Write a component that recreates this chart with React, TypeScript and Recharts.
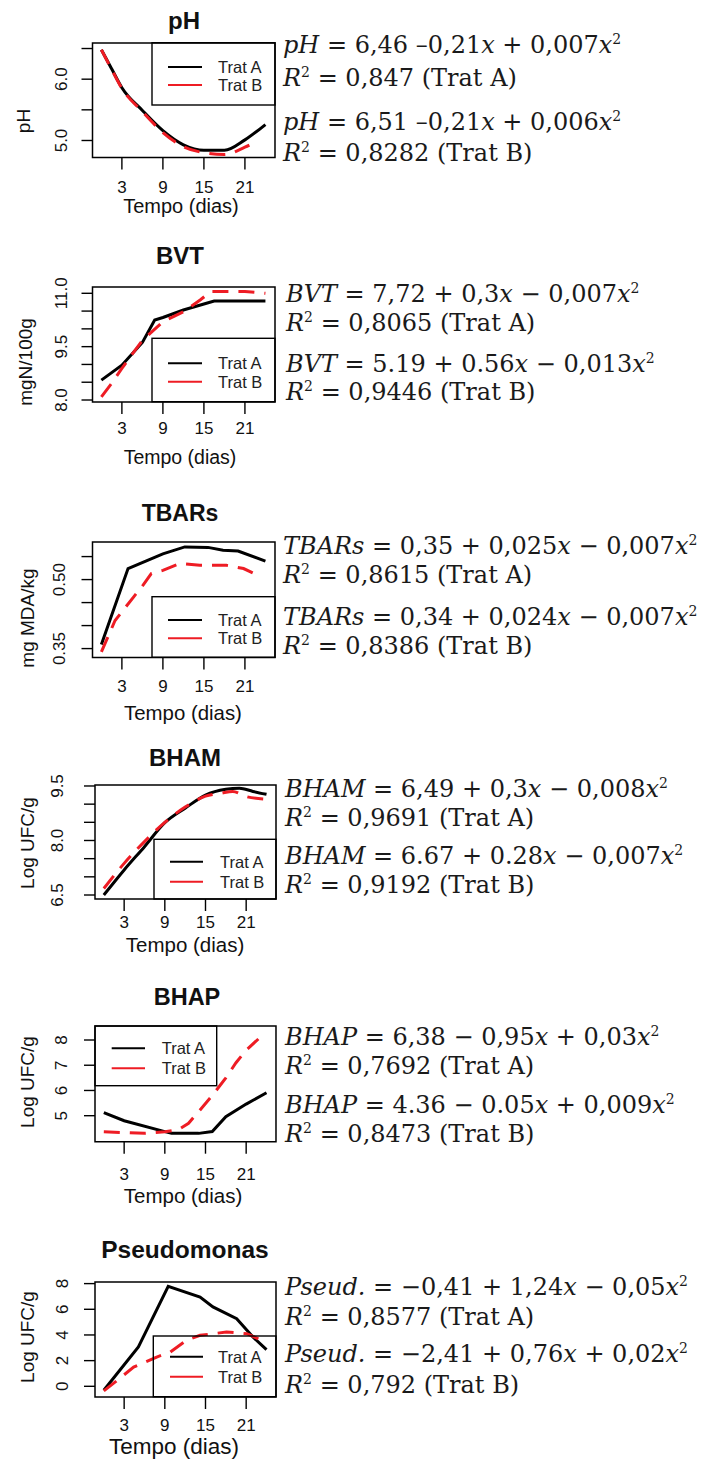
import React from 'react';
import { LineChart, Line, XAxis, YAxis, ReferenceArea } from 'recharts';

const SANS = '"Liberation Sans", Arial, Helvetica, sans-serif';
const SERIF = '"DejaVu Serif", serif';
const RED = '#ee1c24';

const dayTicks = [3, 9, 15, 21];
const xDomain: [number, number] = [-1.3, 25.4];

// ---- data: [day, value] ----
const phA = [[0, 6.48], [1.5, 6.17], [3, 5.86], [6, 5.49], [9, 5.16], [12, 4.93], [15, 4.84], [18, 4.84], [21, 5.01], [24, 5.26]];
const phB = [[0, 6.48], [1.5, 6.16], [3, 5.85], [6, 5.47], [9, 5.13], [12, 4.9], [15, 4.8], [18, 4.77], [21, 4.89], [22.3, 4.96]];
const phTicks = [5.0, 5.5, 6.0, 6.5];
const phTickLabels = ['5.0', '', '6.0', ''];

const bvtA = [[0, 8.56], [3, 8.98], [6, 9.62], [7.8, 10.25], [9, 10.32], [12, 10.53], [15, 10.7], [16.5, 10.78], [24, 10.78]];
const bvtB = [[0, 8.09], [1.5, 8.47], [3, 8.89], [6, 9.68], [9, 10.2], [12, 10.48], [14.5, 10.82], [16, 11.05], [21, 11.05], [24, 11.0]];
const bvtTicks = [8, 8.5, 9, 9.5, 10, 10.5, 11];
const bvtTickLabels = ['8.0', '', '', '9.5', '', '', '11.0'];

const tbaA = [[0, 0.359], [3.9, 0.524], [9, 0.556], [12.2, 0.571], [15.6, 0.57], [17.8, 0.564], [20, 0.562], [24, 0.54]];
const tbaB = [[0, 0.343], [2, 0.411], [4.7, 0.462], [6.1, 0.488], [7.3, 0.513], [9, 0.52], [11.5, 0.535], [14.4, 0.531], [18.3, 0.531], [20.8, 0.524], [22.5, 0.512]];
const tbaTicks = [0.35, 0.4, 0.45, 0.5, 0.55];
const tbaTickLabels = ['0.35', '', '', '0.50', ''];

const bhamA = [[0, 6.5], [3, 7.19], [6, 7.83], [9, 8.49], [12, 8.89], [15, 9.25], [18, 9.41], [20, 9.44], [22, 9.35], [24, 9.27]];
const bhamB = [[0, 6.68], [3, 7.37], [6, 7.97], [9, 8.5], [12, 8.92], [15, 9.22], [17.3, 9.3], [19, 9.35], [21, 9.21], [23.6, 9.14]];
const bhamTicks = [6.5, 7, 7.5, 8, 8.5, 9, 9.5];
const bhamTickLabels = ['6.5', '', '', '8.0', '', '', '9.5'];

const bhapA = [[0, 5.12], [3, 4.8], [9, 4.37], [10, 4.3], [14, 4.3], [16, 4.37], [18, 4.96], [21, 5.46], [24, 5.91]];
const bhapB = [[0, 4.36], [6, 4.3], [9, 4.36], [11, 4.45], [12.5, 4.7], [14.2, 5.23], [16, 5.8], [18, 6.5], [19.5, 7.1], [21, 7.6], [22.8, 8.04]];
const bhapTicks = [5, 6, 7, 8];
const bhapTickLabels = ['5', '6', '7', '8'];

const psA = [[0, -0.31], [5.1, 3.06], [9.5, 7.79], [14.2, 6.95], [16.1, 6.18], [19.6, 5.27], [22, 3.84], [24, 2.85]];
const psB = [[0, -0.36], [1.7, 0.34], [4.4, 1.5], [7.8, 2.28], [9.8, 2.67], [12.2, 3.58], [14.2, 3.97], [18.1, 4.23], [21.1, 4.1], [22.8, 3.7]];
const psTicks = [0, 2, 4, 6, 8];
const psTickLabels = ['0', '2', '4', '6', '8'];

const legendNames = ['Trat A', 'Trat B'];

const phEqs = ['{pH} = 6,46 –0,21{x} + 0,007{x}^2', '{R}^2 = 0,847 (Trat A)', '{pH} = 6,51 –0,21{x} + 0,006{x}^2', '{R}^2 = 0,8282 (Trat B)'];
const bvtEqs = ['{BVT} = 7,72 + 0,3{x} − 0,007{x}^2', '{R}^2 = 0,8065 (Trat A)', '{BVT} = 5.19 + 0.56{x} − 0,013{x}^2', '{R}^2 = 0,9446 (Trat B)'];
const tbaEqs = ['{TBARs} = 0,35 + 0,025{x} − 0,007{x}^2', '{R}^2 = 0,8615 (Trat A)', '{TBARs} = 0,34 + 0,024{x} − 0,007{x}^2', '{R}^2 = 0,8386 (Trat B)'];
const bhamEqs = ['{BHAM} = 6,49 + 0,3{x} − 0,008{x}^2', '{R}^2 = 0,9691 (Trat A)', '{BHAM} = 6.67 + 0.28{x} − 0,007{x}^2', '{R}^2 = 0,9192 (Trat B)'];
const bhapEqs = ['{BHAP} = 6,38 − 0,95{x} + 0,03{x}^2', '{R}^2 = 0,7692 (Trat A)', '{BHAP} = 4.36 − 0.05{x} + 0,009{x}^2', '{R}^2 = 0,8473 (Trat B)'];
const psEqs = ['{Pseud.} = −0,41 + 1,24{x} − 0,05{x}^2', '{R}^2 = 0,8577 (Trat A)', '{Pseud.} = −2,41 + 0,76{x} + 0,02{x}^2', '{R}^2 = 0,792 (Trat B)'];

const toPts = (arr: number[][]) => arr.map(([d, v]) => ({ d, v }));

// ---- layout ----
const panels = [
  {
    a: phA, b: phB, curve: 'monotone', box: [92.5, 275, 42.7, 157.3], yDomain: [4.721, 6.59], yTicks: phTicks, yLabels: phTickLabels, ylx: 66.7, tm: 11,
    title: { text: 'pH', x: 184, y: 29, fs: 24 }, xlab: { x: 181, y: 213, fs: 20 }, ylab: { text: 'pH', x: 30, y: 121 },
    legend: { x: 152, y: 42.7, w: 123, h: 62.3, lx1: 168, lx2: 202, tx: 218, ya: 67, yb: 85 },
    eqX: 283, eqY: [53, 86, 130, 161], eqs: phEqs,
  },
  {
    a: bvtA, b: bvtB, curve: 'linear', box: [92.5, 275, 286.7, 401.7], yDomain: [7.944, 11.177], yTicks: bvtTicks, yLabels: bvtTickLabels, ylx: 66.7, tm: 8,
    title: { text: 'BVT', x: 180, y: 264, fs: 24 }, xlab: { x: 180, y: 464, fs: 19.5 }, ylab: { text: 'mgN/100g', x: 32, y: 362 },
    legend: { x: 152, y: 338.3, w: 123, h: 63.4, lx1: 168, lx2: 202, tx: 218, ya: 363.3, yb: 381.7 },
    eqX: 286, eqY: [302, 331, 372, 400], eqs: bvtEqs,
  },
  {
    a: tbaA, b: tbaB, curve: 'linear', box: [92.5, 275, 541.7, 657.3], yDomain: [0.3304, 0.5817], yTicks: tbaTicks, yLabels: tbaTickLabels, ylx: 65, tm: 10,
    title: { text: 'TBARs', x: 180, y: 521, fs: 23 }, xlab: { x: 183, y: 720, fs: 20.4 }, ylab: { text: 'mg MDA/kg', x: 33.5, y: 618 },
    legend: { x: 152, y: 596.7, w: 123, h: 60.6, lx1: 168, lx2: 202, tx: 218, ya: 620, yb: 638.3 },
    eqX: 283, eqY: [554, 583, 625, 654], eqs: tbaEqs,
  },
  {
    a: bhamA, b: bhamB, curve: 'monotone', box: [95, 276, 785, 899], yDomain: [6.39, 9.527], yTicks: bhamTicks, yLabels: bhamTickLabels, ylx: 63.3, tm: 5,
    title: { text: 'BHAM', x: 185, y: 766, fs: 24 }, xlab: { x: 185, y: 952, fs: 20.5 }, ylab: { text: 'Log UFC/g', x: 33.5, y: 843 },
    legend: { x: 154, y: 839.3, w: 122, h: 59.7, lx1: 170, lx2: 203, tx: 220, ya: 861.7, yb: 881.7 },
    eqX: 285, eqY: [797, 826, 864, 893], eqs: bhamEqs,
  },
  {
    a: bhapA, b: bhapB, curve: 'linear', box: [95, 276, 1026, 1141.7], yDomain: [3.97, 8.555], yTicks: bhapTicks, yLabels: bhapTickLabels, ylx: 66.7, tm: 14,
    title: { text: 'BHAP', x: 187, y: 1005, fs: 23.5 }, xlab: { x: 183, y: 1203, fs: 20.5 }, ylab: { text: 'Log UFC/g', x: 33.5, y: 1082 },
    legend: { x: 95, y: 1026, w: 121.7, h: 59.7, lx1: 111.7, lx2: 145, tx: 161.7, ya: 1048.3, yb: 1068.3 },
    eqX: 285, eqY: [1045, 1074, 1113, 1142], eqs: bhapEqs,
  },
  {
    a: psA, b: psB, curve: 'linear', box: [95, 276, 1281.7, 1396.7], yDomain: [-0.833, 8.125], yTicks: psTicks, yLabels: psTickLabels, ylx: 68.3, tm: 10,
    title: { text: 'Pseudomonas', x: 185, y: 1258, fs: 24.5 }, xlab: { x: 174, y: 1454, fs: 22.5 }, ylab: { text: 'Log UFC/g', x: 33.5, y: 1337 },
    legend: { x: 153.3, y: 1336, w: 122.7, h: 60.7, lx1: 170, lx2: 203, tx: 218, ya: 1356.7, yb: 1376.7 },
    eqX: 285, eqY: [1295, 1325, 1362, 1393], eqs: psEqs,
  },
];

function makeYTick(ticks: number[], labels: string[], lx: number) {
  return (props: any) => {
    const { y, payload } = props;
    const idx = ticks.findIndex((t) => Math.abs(t - payload.value) < 1e-9);
    const lab = idx >= 0 ? labels[idx] : '';
    if (!lab) return <g />;
    return (
      <text x={lx} y={y} transform={`rotate(-90 ${lx} ${y})`} textAnchor="middle" fontSize={17} fontFamily={SANS} fill="#111">
        {lab}
      </text>
    );
  };
}

function Eq({ x, y, src }: { x: number; y: number; src: string }) {
  const parts = src.match(/\{[^}]*\}|\^2|[^{^]+/g) || [];
  let raised = false;
  const out = parts.map((p, i) => {
    if (p === '^2') {
      raised = true;
      return <tspan key={i} dy={-9} fontSize={14}>2</tspan>;
    }
    const dy = raised ? 9 : undefined;
    raised = false;
    if (p.startsWith('{')) return <tspan key={i} dy={dy} fontStyle="italic">{p.slice(1, -1)}</tspan>;
    return <tspan key={i} dy={dy}>{p}</tspan>;
  });
  return (
    <text x={x} y={y} fontFamily={SERIF} fontSize={24} fill="#1a1a1a" style={{ whiteSpace: 'pre' }}>
      {out}
    </text>
  );
}

function Panel({ cfg }: { cfg: any }) {
  const [boxL, boxR, boxT, boxB] = cfg.box;
  const T = boxT - 10;
  const H = boxB - boxT + 10 + 45;
  return (
    <div style={{ position: 'absolute', left: 0, top: T, width: 280, height: H }}>
      <LineChart width={280} height={H} margin={{ top: 10, right: 280 - boxR, bottom: 0, left: 0 }}>
        <XAxis
          type="number"
          dataKey="d"
          domain={xDomain}
          allowDataOverflow
          ticks={dayTicks}
          interval={0}
          tickSize={12}
          tickMargin={cfg.tm}
          axisLine={false}
          tickLine={{ stroke: '#000', strokeWidth: 1.4 }}
          tick={{ fill: '#111', fontSize: 17, fontFamily: SANS }}
          height={45}
        />
        <YAxis
          type="number"
          domain={cfg.yDomain}
          allowDataOverflow
          ticks={cfg.yTicks}
          interval={0}
          width={boxL}
          tickSize={11}
          axisLine={false}
          tickLine={{ stroke: '#000', strokeWidth: 1.4 }}
          tick={makeYTick(cfg.yTicks, cfg.yLabels, cfg.ylx)}
        />
        <ReferenceArea
          x1={xDomain[0]}
          x2={xDomain[1]}
          y1={cfg.yDomain[0]}
          y2={cfg.yDomain[1]}
          fill="none"
          fillOpacity={0}
          stroke="#000"
          strokeWidth={1.5}
          strokeOpacity={1}
          ifOverflow="visible"
        />
        <Line data={toPts(cfg.a)} dataKey="v" type={cfg.curve} stroke="#000" strokeWidth={3} dot={false} activeDot={false} isAnimationActive={false} />
        <Line data={toPts(cfg.b)} dataKey="v" type={cfg.curve} stroke={RED} strokeWidth={3} strokeDasharray="16 10" dot={false} activeDot={false} isAnimationActive={false} />
      </LineChart>
    </div>
  );
}

function Overlay() {
  return (
    <svg width={704} height={1461} style={{ position: 'absolute', left: 0, top: 0, pointerEvents: 'none' }}>
      {panels.map((p, i) => {
        const lg = p.legend;
        return (
          <g key={i}>
            <text x={p.title.x} y={p.title.y} textAnchor="middle" fontFamily={SANS} fontWeight="bold" fontSize={p.title.fs} fill="#111">
              {p.title.text}
            </text>
            <text x={p.xlab.x} y={p.xlab.y} textAnchor="middle" fontFamily={SANS} fontSize={p.xlab.fs} fill="#111">
              Tempo (dias)
            </text>
            <text
              x={p.ylab.x}
              y={p.ylab.y}
              transform={`rotate(-90 ${p.ylab.x} ${p.ylab.y})`}
              textAnchor="middle"
              fontFamily={SANS}
              fontSize={19}
              fill="#111"
            >
              {p.ylab.text}
            </text>
            <rect x={lg.x} y={lg.y} width={lg.w} height={lg.h} fill="none" stroke="#000" strokeWidth={1.4} />
            <line x1={lg.lx1} x2={lg.lx2} y1={lg.ya} y2={lg.ya} stroke="#000" strokeWidth={2} />
            <line x1={lg.lx1} x2={lg.lx2} y1={lg.yb} y2={lg.yb} stroke={RED} strokeWidth={2} />
            <text x={lg.tx} y={lg.ya + 6} fontFamily={SANS} fontSize={16.5} fill="#222">{legendNames[0]}</text>
            <text x={lg.tx} y={lg.yb + 6} fontFamily={SANS} fontSize={16.5} fill="#222">{legendNames[1]}</text>
            {p.eqs.map((e, j) => (
              <Eq key={j} x={p.eqX} y={p.eqY[j]} src={e} />
            ))}
          </g>
        );
      })}
    </svg>
  );
}

export default function App() {
  return (
    <div style={{ position: 'absolute', left: 0, top: 0, width: 704, height: 1461, background: '#fff', overflow: 'hidden' }}>
      {panels.map((p, i) => (
        <Panel key={i} cfg={p} />
      ))}
      <Overlay />
    </div>
  );
}
